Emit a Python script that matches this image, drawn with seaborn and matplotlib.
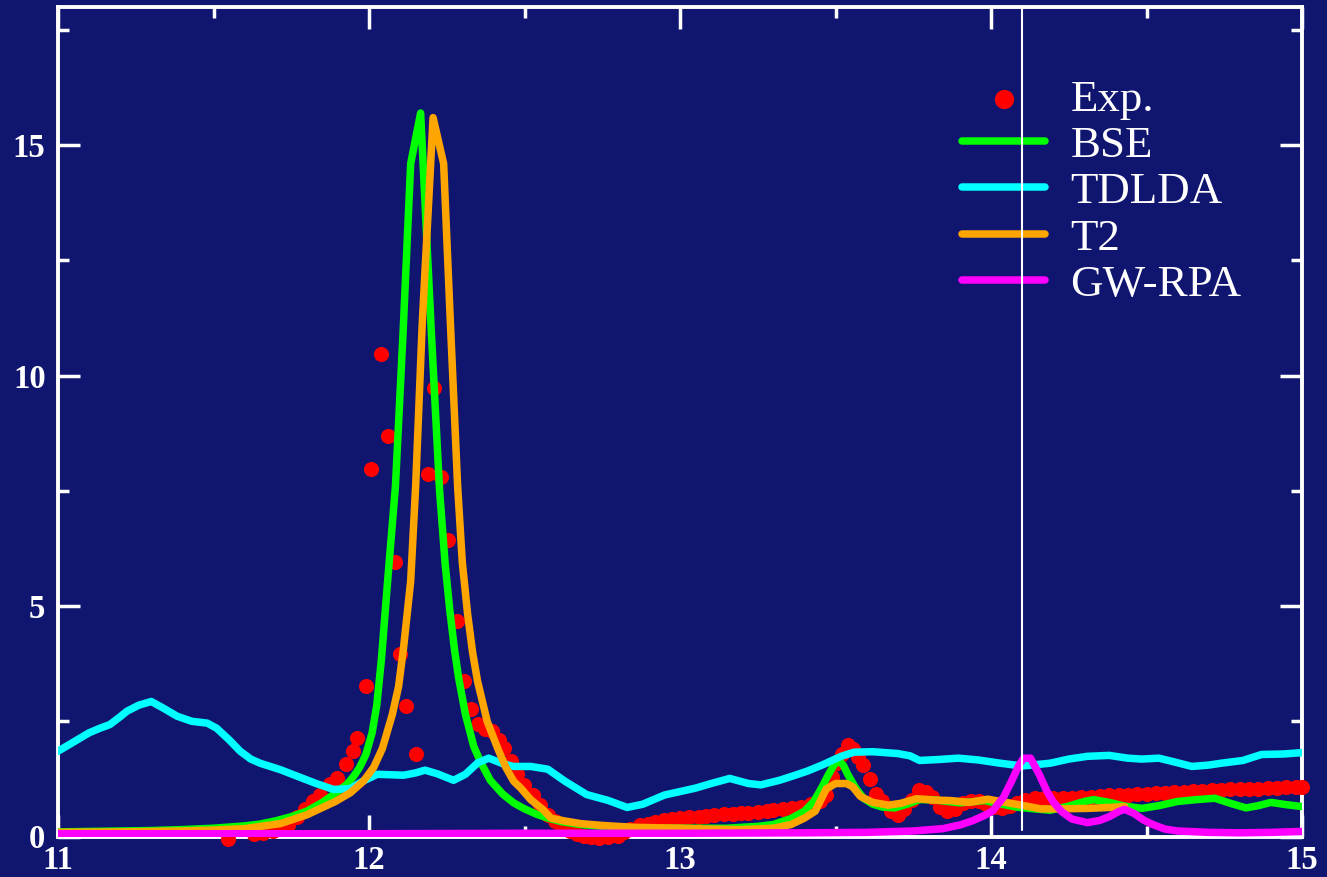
import numpy as np
import pandas as pd
import matplotlib
matplotlib.use("Agg")
import matplotlib.pyplot as plt
from matplotlib.ticker import MultipleLocator
from matplotlib.font_manager import FontProperties
import seaborn as sns

# ---- experimental absorption (points) ----
exp_x = [11.548, 11.63, 11.66, 11.69, 11.72, 11.74, 11.77, 11.795, 11.82, 11.844,
         11.876, 11.898, 11.925, 11.947, 11.963, 11.99, 12.008, 12.038, 12.06, 12.083,
         12.10, 12.12, 12.15, 12.19, 12.208, 12.233, 12.255, 12.283, 12.305, 12.327,
         12.35, 12.372, 12.395, 12.417, 12.435, 12.455, 12.475, 12.497, 12.527, 12.55,
         12.575, 12.597, 12.62, 12.645, 12.67, 12.69, 12.715, 12.74, 12.77, 12.80,
         12.82, 12.84, 12.87, 12.897, 12.92, 12.95, 12.975, 13.0, 13.03, 13.06,
         13.085, 13.11, 13.14, 13.17, 13.196, 13.22, 13.25, 13.28, 13.30, 13.33,
         13.36, 13.39, 13.42, 13.45, 13.47, 13.49, 13.505, 13.52, 13.54, 13.555,
         13.573, 13.59, 13.61, 13.63, 13.65, 13.68, 13.70, 13.72, 13.745, 13.77,
         13.79, 13.81, 13.835, 13.86, 13.885, 13.91, 13.935, 13.96, 13.985, 14.01,
         14.035, 14.06, 14.085, 14.11, 14.14, 14.17, 14.20, 14.23, 14.26, 14.29,
         14.32, 14.35, 14.38, 14.41, 14.44, 14.47, 14.50, 14.53, 14.56, 14.59,
         14.62, 14.65, 14.68, 14.71, 14.74, 14.77, 14.80, 14.83, 14.86, 14.89,
         14.92, 14.95, 14.98, 15.0]
exp_y = [-0.06, 0.05, 0.08, 0.12, 0.20, 0.26, 0.43, 0.59, 0.76, 0.91,
         1.13, 1.26, 1.57, 1.85, 2.13, 3.26, 7.98, 10.48, 8.70, 5.95,
         3.95, 2.84, 1.79, 7.87, 9.74, 7.80, 6.43, 4.67, 3.38, 2.77,
         2.44, 2.33, 2.28, 2.10, 1.93, 1.63, 1.36, 1.11, 0.91, 0.68,
         0.47, 0.33, 0.20, 0.11, 0.05, 0.02, -0.02, -0.03, -0.02, 0.02,
         0.10, 0.17, 0.24, 0.28, 0.32, 0.36, 0.38, 0.40, 0.42, 0.43,
         0.45, 0.47, 0.48, 0.49, 0.50, 0.51, 0.53, 0.55, 0.57, 0.60,
         0.62, 0.65, 0.70, 0.77, 0.90, 1.30, 1.60, 1.80, 1.98, 1.90,
         1.72, 1.55, 1.25, 0.93, 0.76, 0.55, 0.47, 0.60, 0.80, 1.00,
         0.97, 0.85, 0.65, 0.56, 0.60, 0.72, 0.78, 0.76, 0.70, 0.63,
         0.62, 0.66, 0.73, 0.80, 0.83, 0.83, 0.83, 0.84, 0.84, 0.85,
         0.86, 0.87, 0.89, 0.90, 0.91, 0.92, 0.93, 0.94, 0.95, 0.96,
         0.97, 0.98, 0.99, 1.00, 1.01, 1.02, 1.03, 1.03, 1.04, 1.05,
         1.06, 1.07, 1.08, 1.08]

# ---- BSE spectrum ----
bse_x = [11.0, 11.1, 11.2, 11.3, 11.4, 11.5, 11.6, 11.65, 11.7, 11.75,
         11.8, 11.85, 11.9, 11.93, 11.95, 11.97, 11.99, 12.01, 12.025, 12.04,
         12.06, 12.085, 12.11, 12.134, 12.166, 12.2, 12.227, 12.245, 12.26, 12.275,
         12.288, 12.31, 12.337, 12.36, 12.39, 12.43, 12.465, 12.5, 12.54, 12.575,
         12.62, 12.68, 12.75, 12.85, 12.95, 13.05, 13.15, 13.25, 13.3, 13.357,
         13.4, 13.43, 13.455, 13.477, 13.495, 13.51, 13.525, 13.54, 13.565, 13.59,
         13.62, 13.65, 13.69, 13.73, 13.77, 13.81, 13.86, 13.9, 13.95, 13.98,
         14.02, 14.08, 14.14, 14.19, 14.25, 14.3, 14.33, 14.38, 14.43, 14.485,
         14.54, 14.6, 14.66, 14.72, 14.77, 14.82, 14.86, 14.9, 14.95, 15.0]
bse_y = [0.10, 0.11, 0.12, 0.13, 0.15, 0.18, 0.23, 0.27, 0.34, 0.43,
         0.55, 0.74, 0.98, 1.14, 1.30, 1.50, 1.78, 2.25, 2.85, 3.85,
         5.55, 7.60, 11.0, 14.6, 15.7, 11.0, 7.50, 5.90, 4.90, 4.05,
         3.45, 2.65, 1.95, 1.60, 1.22, 0.92, 0.73, 0.60, 0.48, 0.40,
         0.32, 0.26, 0.22, 0.19, 0.18, 0.18, 0.18, 0.22, 0.26, 0.39,
         0.55, 0.76, 1.05, 1.34, 1.55, 1.65, 1.55, 1.34, 1.05, 0.83,
         0.70, 0.64, 0.62, 0.70, 0.80, 0.80, 0.76, 0.73, 0.76, 0.78,
         0.72, 0.64, 0.60, 0.57, 0.66, 0.76, 0.80, 0.74, 0.66, 0.61,
         0.67, 0.76, 0.80, 0.83, 0.72, 0.62, 0.67, 0.74, 0.69, 0.65]

# ---- TDLDA spectrum ----
tdlda_x = [11.0, 11.05, 11.1, 11.135, 11.167, 11.2, 11.222, 11.26, 11.30, 11.34,
           11.383, 11.43, 11.48, 11.51, 11.55, 11.586, 11.62, 11.65, 11.715, 11.78,
           11.83, 11.886, 11.94, 11.98, 12.027, 12.07, 12.111, 12.15, 12.18, 12.22,
           12.272, 12.31, 12.35, 12.385, 12.43, 12.465, 12.52, 12.575, 12.63, 12.70,
           12.77, 12.83, 12.88, 12.95, 13.05, 13.1, 13.16, 13.22, 13.26, 13.32,
           13.357, 13.41, 13.46, 13.518, 13.56, 13.62, 13.70, 13.74, 13.77, 13.83,
           13.895, 13.96, 14.03, 14.10, 14.19, 14.25, 14.31, 14.38, 14.44, 14.485,
           14.54, 14.6, 14.646, 14.7, 14.74, 14.81, 14.87, 14.94, 15.0]
tdlda_y = [1.85, 2.05, 2.25, 2.35, 2.43, 2.60, 2.72, 2.85, 2.93, 2.78,
           2.61, 2.50, 2.46, 2.35, 2.10, 1.85, 1.68, 1.59, 1.45, 1.28,
           1.15, 1.02, 1.04, 1.20, 1.35, 1.34, 1.33, 1.38, 1.44, 1.36,
           1.22, 1.35, 1.60, 1.70, 1.58, 1.52, 1.52, 1.46, 1.20, 0.91,
           0.78, 0.63, 0.70, 0.90, 1.05, 1.15, 1.26, 1.15, 1.12, 1.22,
           1.30, 1.42, 1.56, 1.74, 1.83, 1.84, 1.80, 1.75, 1.65, 1.67,
           1.70, 1.66, 1.59, 1.53, 1.59, 1.68, 1.74, 1.76, 1.70, 1.68,
           1.70, 1.60, 1.52, 1.55, 1.59, 1.65, 1.78, 1.79, 1.82]

# ---- T2 spectrum ----
t2_x = [11.0, 11.2, 11.4, 11.5, 11.6, 11.715, 11.80, 11.892, 11.94, 11.982,
        12.015, 12.043, 12.075, 12.095, 12.111, 12.134, 12.15, 12.171, 12.206, 12.24,
        12.262, 12.285, 12.3, 12.317, 12.333, 12.349, 12.38, 12.414, 12.44, 12.465,
        12.488, 12.52, 12.56, 12.585, 12.627, 12.68, 12.75, 12.85, 13.0, 13.1,
        13.2, 13.3, 13.357, 13.4, 13.435, 13.47, 13.5, 13.535, 13.555, 13.58,
        13.62, 13.67, 13.71, 13.76, 13.82, 13.87, 13.93, 13.99, 14.03, 14.098,
        14.16, 14.22, 14.31, 14.38, 14.43]
t2_y = [0.09, 0.10, 0.12, 0.14, 0.17, 0.28, 0.47, 0.76, 0.95, 1.20,
        1.50, 1.91, 2.65, 3.25, 4.09, 5.54, 7.60, 11.1, 15.6, 14.6,
        11.1, 7.60, 5.95, 4.83, 4.0, 3.37, 2.50, 1.91, 1.50, 1.20,
        1.05, 0.80, 0.58, 0.40, 0.34, 0.28, 0.24, 0.20, 0.18, 0.16,
        0.15, 0.18, 0.26, 0.40, 0.55, 1.03, 1.15, 1.15, 1.08, 0.87,
        0.74, 0.68, 0.72, 0.82, 0.79, 0.78, 0.74, 0.81, 0.76, 0.68,
        0.60, 0.60, 0.61, 0.63, 0.65]

# ---- GW-RPA spectrum ----
gw_x = [11.0, 11.5, 12.0, 12.5, 13.0, 13.4, 13.6, 13.75, 13.845, 13.9,
        13.94, 13.98, 14.006, 14.04, 14.066, 14.09, 14.105, 14.127, 14.155, 14.18,
        14.2, 14.227, 14.26, 14.31, 14.35, 14.38, 14.41, 14.43, 14.46, 14.49,
        14.52, 14.56, 14.6, 14.7, 14.8, 14.9, 15.0]
gw_y = [0.06, 0.06, 0.06, 0.07, 0.07, 0.08, 0.09, 0.12, 0.17, 0.25,
        0.34, 0.46, 0.56, 0.85, 1.20, 1.55, 1.70, 1.70, 1.35, 0.98,
        0.75, 0.54, 0.38, 0.30, 0.35, 0.43, 0.54, 0.59, 0.50, 0.36,
        0.26, 0.16, 0.12, 0.09, 0.08, 0.09, 0.11]

marker_line = 14.1

BG = "#10156f"
FG = "white"

sns.set_theme(style="ticks")
plt.rcParams.update({
    "figure.facecolor": BG,
    "axes.facecolor": BG,
    "savefig.facecolor": BG,
    "axes.edgecolor": FG,
    "xtick.color": FG,
    "ytick.color": FG,
    "text.color": FG,
})
plt.rcParams["font.family"] = ["Liberation Serif", "DejaVu Serif"]

fig = plt.figure(figsize=(13.27, 8.77), dpi=100)
ax = fig.add_axes([58 / 1327, 40.5 / 877, 1244 / 1327, 829.5 / 877])

lw = 5.4
sns.scatterplot(x=exp_x, y=exp_y, ax=ax, color="#ff0000", s=118,
                edgecolor="#ff0000", linewidth=0,
                label="Exp.", clip_on=False, zorder=2)
sns.lineplot(x=bse_x, y=bse_y, ax=ax, color="#00ff00", lw=lw, label="BSE",
             estimator=None, zorder=3)
sns.lineplot(x=tdlda_x, y=tdlda_y, ax=ax, color="#00ffff", lw=lw, label="TDLDA",
             estimator=None, zorder=3)
sns.lineplot(x=t2_x, y=t2_y, ax=ax, color="#ffa500", lw=lw, label="T2",
             estimator=None, zorder=4)
sns.lineplot(x=gw_x, y=gw_y, ax=ax, color="#ff00ff", lw=lw, label="GW-RPA",
             estimator=None, zorder=5)

ax.axvline(marker_line, ymin=0.008, ymax=1.0, color=FG, lw=1.5, zorder=6)

ax.set_xlim(11, 15)
ax.set_ylim(0, 18)
ax.set_xlabel("")
ax.set_ylabel("")

ax.xaxis.set_major_locator(MultipleLocator(1))
ax.xaxis.set_minor_locator(MultipleLocator(0.5))
ax.yaxis.set_major_locator(MultipleLocator(5))
ax.yaxis.set_minor_locator(MultipleLocator(2.5))
ax.tick_params(which="both", direction="in", top=True, right=True,
               width=2.5, colors=FG)
ax.tick_params(which="major", length=16)
ax.tick_params(which="minor", length=8)
ax.tick_params(axis="y", which="major", pad=9)
ax.tick_params(axis="x", which="major", pad=6)
for lab in ax.get_xticklabels() + ax.get_yticklabels():
    lab.set_fontfamily("Liberation Serif")
    lab.set_fontweight("bold")
    lab.set_fontsize(23.5)
    lab.set_color(FG)

for sp in ax.spines.values():
    sp.set_visible(True)
    sp.set_linewidth(2.8)
    sp.set_color(FG)
    sp.set_zorder(1)

leg = ax.legend(loc="upper left", bbox_to_anchor=(962 / 1327, 1 - 79 / 877),
                bbox_transform=fig.transFigure, frameon=False,
                prop=FontProperties(family="Liberation Serif", size=32.4),
                handlelength=1.85, handletextpad=0.56, labelspacing=0.13,
                borderpad=0, borderaxespad=0, markerscale=0.78)
for t in leg.get_texts():
    t.set_color(FG)
for h in leg.legend_handles:
    try:
        h.set_linewidth(lw)
    except Exception:
        pass
    if hasattr(h, "set_edgecolor") and h.get_label() == "Exp.":
        h.set_edgecolor("#ff0000")

fig.savefig("out.png", dpi=100, facecolor=BG)
